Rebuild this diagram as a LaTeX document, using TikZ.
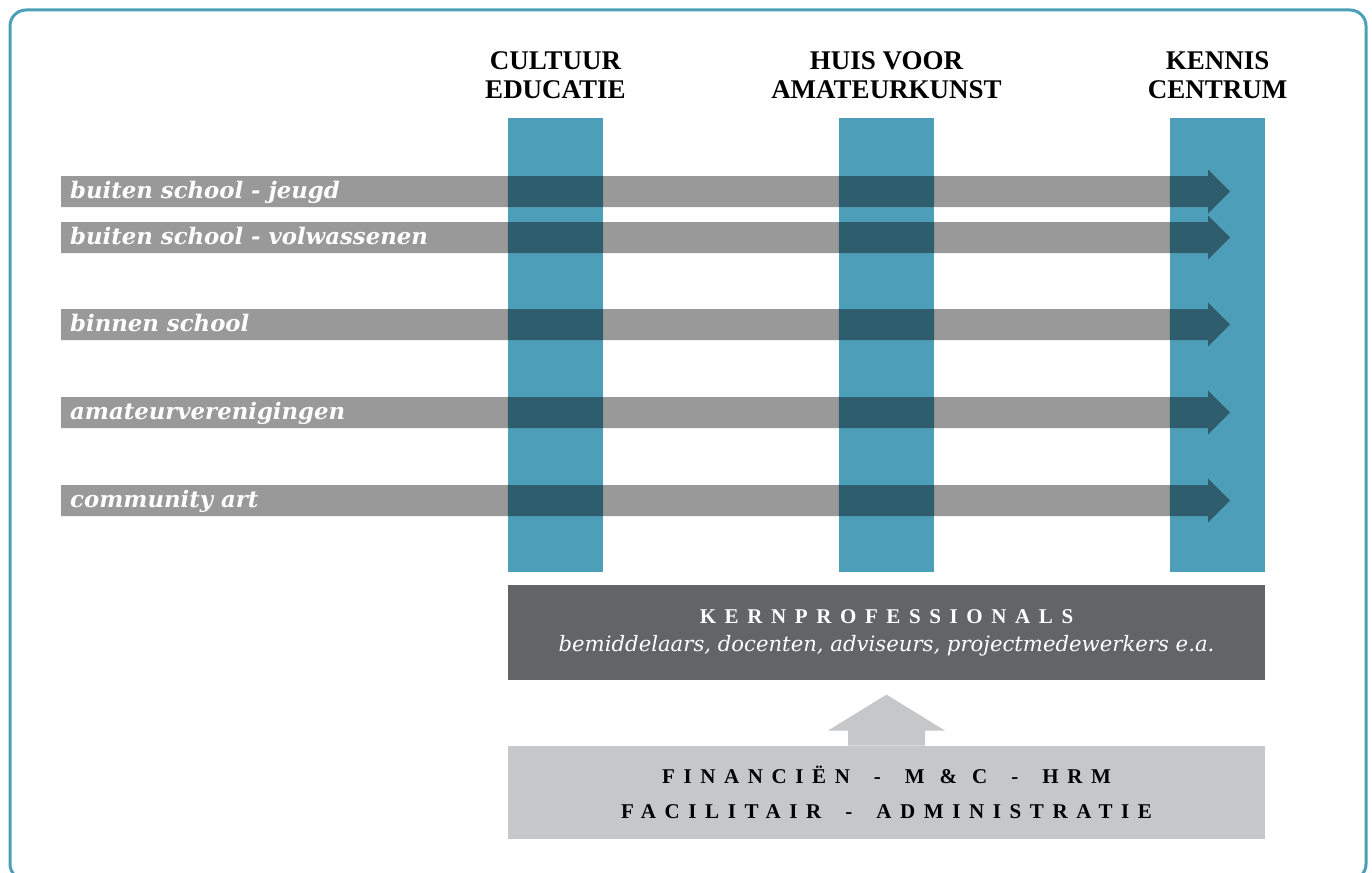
\documentclass[tikz,border=0pt]{standalone}
\usepackage{fontspec}
\setmainfont{Liberation Serif}
\newfontfamily\dejavuserif{DejaVu Serif}
\newfontfamily\spatiefont[LetterSpace=41]{Liberation Serif}
\usetikzlibrary{positioning}
\definecolor{blauw}{HTML}{4D9FB9}
\definecolor{grijs}{HTML}{999999}
\definecolor{donkerblauw}{HTML}{2E5D6E}
\definecolor{antraciet}{HTML}{636466}
\definecolor{lichtgrijs}{HTML}{C6C7C9}
\newcommand{\streep}{\hskip 24pt\relax -\hskip 24pt\relax}
\newcommand{\ruim}{\hskip 15pt\relax}

\begin{document}
\begin{tikzpicture}
  [x=1pt,y=-1pt]
      \tikzstyle{kader_style} = [draw=blauw, line width=3pt, rounded corners=16pt]
      \tikzstyle{kolom_style} = [fill=blauw, inner sep=0, minimum width=95pt, minimum height=454pt]
      \tikzstyle{kop_style} = [align=center, inner sep=0, font=\bfseries\fontsize{27}{29}\selectfont]
      \tikzstyle{pijl_style} = [fill=grijs]
      \tikzstyle{rij_style} = [anchor=base west, inner sep=0, text=white, font=\dejavuserif\bfseries\itshape\fontsize{22.8}{26}\selectfont]
      \tikzstyle{kern_style} = [fill=antraciet, text=white, align=center, minimum width=757pt, minimum height=95pt, font=\fontsize{21.2}{28}\selectfont]
      \tikzstyle{staf_style} = [fill=lichtgrijs, align=center, minimum width=757pt, minimum height=93pt, font=\spatiefont\bfseries\fontsize{21}{35}\selectfont]
  \useasboundingbox (0,0) rectangle (1372,872);
  \draw[kader_style] (10,10) rectangle (1366,880);
  % kolommen
  \node[kolom_style] (ce) at (555.5,345) {};
  \node[kolom_style] (ha) at (886.5,345) {};
  \node[kolom_style] (kc) at (1217.5,345) {};
  \node[kop_style, above=19pt of ce] (ce_kop) {CULTUUR\\EDUCATIE};
  \node[kop_style, above=19pt of ha] (ha_kop) {HUIS VOOR\\AMATEURKUNST};
  \node[kop_style, above=19pt of kc] (kc_kop) {KENNIS\\CENTRUM};
  % pijlen
  \foreach \y in {191.5,237.5,324.5,412.5,500.5}
    \fill[pijl_style] (61,\y-15.5) -- (1208,\y-15.5) -- (1208,\y-22) -- (1230,\y)
      -- (1208,\y+22) -- (1208,\y+15.5) -- (61,\y+15.5) -- cycle;
  \begin{scope}
    \clip (ce.north west) rectangle (ce.south east) (ha.north west) rectangle (ha.south east)
      (kc.north west) rectangle (kc.south east);
    \foreach \y in {191.5,237.5,324.5,412.5,500.5}
      \fill[donkerblauw] (61,\y-15.5) -- (1208,\y-15.5) -- (1208,\y-22) -- (1230,\y)
        -- (1208,\y+22) -- (1208,\y+15.5) -- (61,\y+15.5) -- cycle;
  \end{scope}
  \node[rij_style] (r1) at (70,198.5) {buiten school - jeugd};
  \node[rij_style] (r2) at (70,244.5) {buiten school - volwassenen};
  \node[rij_style] (r3) at (70,331.5) {binnen school};
  \node[rij_style] (r4) at (70,419.5) {amateurverenigingen};
  \node[rij_style] (r5) at (70,507.5) {community art};
  % kern en staf
  \node[kern_style, below=13pt of ha] (kern)
    {{\spatiefont\bfseries\fontsize{21}{28}\selectfont KERNPROFESSIONALS}\\
     {\dejavuserif\itshape bemiddelaars, docenten, adviseurs, projectmedewerkers e.a.}};
  \node[staf_style, below=65pt of kern] (staf)
    {FINANCIËN\streep M\ruim\&\ruim C\streep HRM\\FACILITAIR\streep ADMINISTRATIE};
  \coordinate (punt) at ([yshift=-14pt]kern.south);
  \fill[lichtgrijs] ([xshift=-38.5pt]staf.north) -- ([xshift=-38.5pt,yshift=15pt]staf.north)
    -- ([xshift=-58.5pt,yshift=15pt]staf.north) -- (punt)
    -- ([xshift=58.5pt,yshift=15pt]staf.north) -- ([xshift=38.5pt,yshift=15pt]staf.north)
    -- ([xshift=38.5pt]staf.north) -- cycle;
\end{tikzpicture}
\end{document}
